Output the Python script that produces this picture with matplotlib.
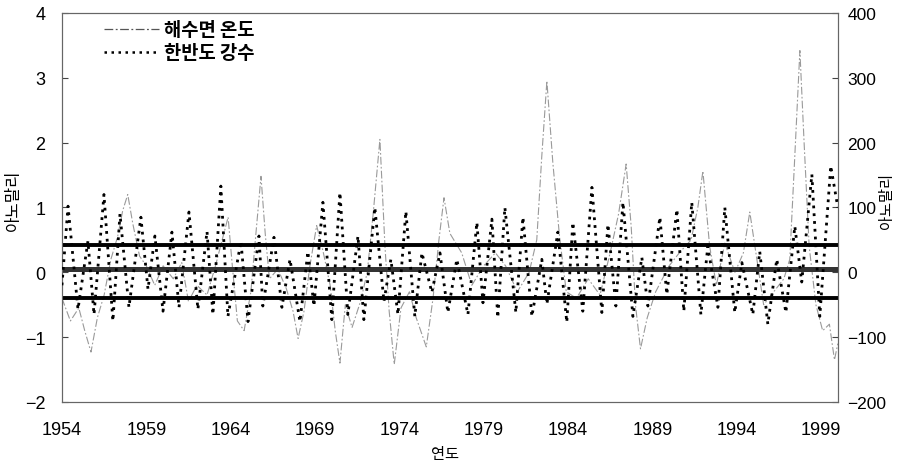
import matplotlib
matplotlib.use("Agg")
import matplotlib.pyplot as plt
from matplotlib.lines import Line2D

# ---- data ----
sst_year = [1954.00, 1954.50, 1955.00, 1955.35, 1955.72, 1956.10, 1956.50, 1956.90, 1957.30, 1957.60,
            1957.90, 1958.20, 1958.60, 1959.00, 1959.50, 1960.00, 1960.60, 1961.10, 1961.50, 1962.00,
            1962.60, 1963.10, 1963.50, 1963.85, 1964.10, 1964.40, 1964.80, 1965.20, 1965.50, 1965.80,
            1966.05, 1966.30, 1966.80, 1967.30, 1967.70, 1968.00, 1968.35, 1968.70, 1969.10, 1969.50,
            1969.90, 1970.20, 1970.48, 1970.80, 1971.20, 1971.70, 1972.10, 1972.45, 1972.85, 1973.15,
            1973.40, 1973.70, 1974.10, 1974.60, 1975.00, 1975.60, 1976.00, 1976.35, 1976.65, 1977.00,
            1977.70, 1978.30, 1979.00, 1979.70, 1980.30, 1981.00, 1981.70, 1982.15, 1982.45, 1982.75,
            1983.10, 1983.50, 1983.90, 1984.50, 1985.20, 1985.90, 1986.50, 1987.00, 1987.45, 1987.75,
            1988.00, 1988.30, 1988.70, 1989.20, 1990.00, 1990.60, 1991.30, 1991.70, 1992.00, 1992.40,
            1992.80, 1993.30, 1993.90, 1994.40, 1994.78, 1995.20, 1995.60, 1996.20, 1996.80, 1997.15,
            1997.45, 1997.75, 1998.00, 1998.30, 1998.70, 1999.10, 1999.50, 1999.80, 2000.00]
sst_anom = [-0.40, -0.75, -0.55, -0.90, -1.23, -0.70, -0.35, 0.20, 0.55, 0.95,
            1.20, 0.75, 0.25, 0.10, -0.20, 0.10, -0.10, 0.15, -0.45, -0.20,
            -0.35, 0.10, 0.50, 0.85, 0.10, -0.75, -0.90, -0.30, 0.60, 1.48,
            0.60, -0.10, 0.05, -0.25, -0.60, -1.02, -0.60, 0.10, 0.72, 0.30,
            -0.20, -0.90, -1.40, -0.50, -0.85, -0.45, 0.00, 0.90, 2.05, 0.40,
            -0.60, -1.42, -0.55, -0.30, -0.70, -1.15, -0.40, 0.50, 1.15, 0.60,
            0.30, -0.20, 0.10, 0.30, 0.10, -0.30, 0.00, 0.50, 1.80, 2.95,
            1.70, 0.55, -0.30, -0.40, -0.10, -0.35, 0.30, 0.90, 1.67, 0.70,
            -0.50, -1.18, -0.70, -0.30, 0.10, 0.30, 0.50, 1.00, 1.56, 0.40,
            -0.20, 0.45, 0.00, 0.30, 0.93, 0.20, -0.50, -0.30, -0.10, 0.20,
            1.80, 3.42, 2.00, 0.40, -0.50, -0.90, -0.80, -1.35, -1.10]

pr_year = [1954.00, 1954.36, 1954.95, 1955.54, 1955.90, 1956.49, 1957.02, 1957.44, 1957.97, 1958.68,
           1959.10, 1959.51, 1959.99, 1960.52, 1960.94, 1961.53, 1962.06, 1962.60, 1962.95, 1963.42,
           1963.84, 1964.61, 1965.03, 1965.68, 1965.91, 1966.57, 1967.04, 1967.52, 1968.11, 1968.58,
           1968.94, 1969.47, 1970.00, 1970.48, 1970.95, 1971.55, 1971.90, 1972.55, 1973.09, 1973.50,
           1973.92, 1974.39, 1974.92, 1975.34, 1975.93, 1976.41, 1976.88, 1977.41, 1978.07, 1978.60,
           1978.96, 1979.49, 1979.84, 1980.26, 1980.91, 1981.33, 1981.86, 1982.45, 1982.75, 1983.40,
           1983.93, 1984.29, 1984.88, 1985.42, 1986.01, 1986.37, 1986.84, 1987.26, 1987.85, 1988.38,
           1988.74, 1989.45, 1989.86, 1990.46, 1990.87, 1991.34, 1991.88, 1992.29, 1992.89, 1993.30,
           1993.89, 1994.31, 1994.96, 1995.37, 1995.85, 1996.38, 1996.92, 1997.45, 1997.86, 1998.46,
           1998.93, 1999.58, 2000.00]
pr_anom = [-20, 102, -57, 48, -65, 120, -75, 90, -54, 85,
           -26, 56, -60, 62, -54, 93, -57, 63, -65, 133,
           -68, 48, -76, 56, -52, 54, -54, 20, -76, 32,
           -52, 108, -73, 123, -65, 56, -73, 100, -45, 20,
           -65, 94, -68, 30, -31, 30, -62, 20, -65, 77,
           -47, 82, -70, 100, -62, 85, -68, 20, -49, 62,
           -77, 77, -60, 131, -62, 74, -52, 108, -68, 23,
           -52, 85, -34, 97, -60, 108, -65, 40, -54, 100,
           -62, 15, -65, 32, -80, 20, -62, 71, -15, 151,
           -68, 164, 100]

ref_levels = [0.42, 0.05, -0.40]
ref_widths = [2.8, 3.6, 2.8]
ref_colors = ["black", "#333333", "black"]

x_ticks = [1954, 1959, 1964, 1969, 1974, 1979, 1984, 1989, 1994, 1999]
left_ticks = [-2, -1, 0, 1, 2, 3, 4]
right_ticks = [-200, -100, 0, 100, 200, 300, 400]
labels = ["해수면 온도", "한반도 강수"]

# ---- fonts ----
num_font = ["Liberation Sans Narrow", "Liberation Sans", "DejaVu Sans"]
kr_font = ["Noto Sans CJK KR", "DejaVu Sans"]
plt.rcParams["font.family"] = num_font
plt.rcParams["axes.unicode_minus"] = True

fig = plt.figure(figsize=(8.98, 4.64), dpi=100)
ax = fig.add_axes([0.069, 0.1315, 0.864, 0.8384])
ax2 = ax.twinx()

# SST (left axis)
ax.plot(sst_year, sst_anom, color="#9a9a9a", lw=0.8,
        linestyle=(0, (7, 2, 1.5, 2)), zorder=2)
# precipitation (right axis)
ax2.plot(pr_year, pr_anom, color="black", lw=2.0,
         linestyle=(0, (1, 1.8)), zorder=3)

for lev, w, c in zip(ref_levels, ref_widths, ref_colors):
    ax.axhline(lev, color=c, lw=w, zorder=4)

ax.set_xlim(1954, 2000)
ax.set_ylim(-2, 4)
ax2.set_ylim(-200, 400)
ax.set_xticks(x_ticks)
ax.set_xticklabels([str(t) for t in x_ticks], fontsize=13)
ax.set_yticks(left_ticks)
ax.set_yticklabels([f"{t:d}".replace("-", "\u2212") for t in left_ticks], fontsize=13)
ax2.set_yticks(right_ticks)
ax2.set_yticklabels([f"{t:d}".replace("-", "\u2212") for t in right_ticks], fontsize=12.5)

ax.tick_params(axis="x", length=0, pad=14)
ax.tick_params(axis="y", direction="in", length=4, width=0.8, colors="#444444",
               labelcolor="black", pad=12)
ax2.tick_params(axis="y", direction="in", length=4, width=0.8, colors="#444444",
                labelcolor="black", pad=7)

for a in (ax, ax2):
    for s in a.spines.values():
        s.set_color("#666666")
        s.set_linewidth(0.8)

ax.set_xlabel("연도", fontsize=11, family=kr_font, va="center")
ax.xaxis.set_label_coords(0.494, -0.132)
ax.set_ylabel("아노말리", fontsize=12, family=kr_font, va="center")
ax.yaxis.set_label_coords(-0.062, 0.52)
ax2.set_ylabel("아노말리", fontsize=11, family=kr_font, va="center")
ax2.yaxis.set_label_coords(1.063, 0.52)

leg_sst = Line2D([], [], color="#555555", lw=0.9, linestyle=(0, (7, 2, 1.5, 2)))
leg_pr = Line2D([], [], color="black", lw=1.8, linestyle=(0, (1, 1.8)))
ax2.legend([leg_sst, leg_pr], labels, loc="upper left",
           bbox_to_anchor=(0.04, 1.01), frameon=False, handlelength=2.9,
           handletextpad=0.3, labelspacing=0.2, borderaxespad=0.2,
           prop={"family": kr_font, "size": 13.5, "weight": "bold"})

fig.savefig("out.png", dpi=100)
